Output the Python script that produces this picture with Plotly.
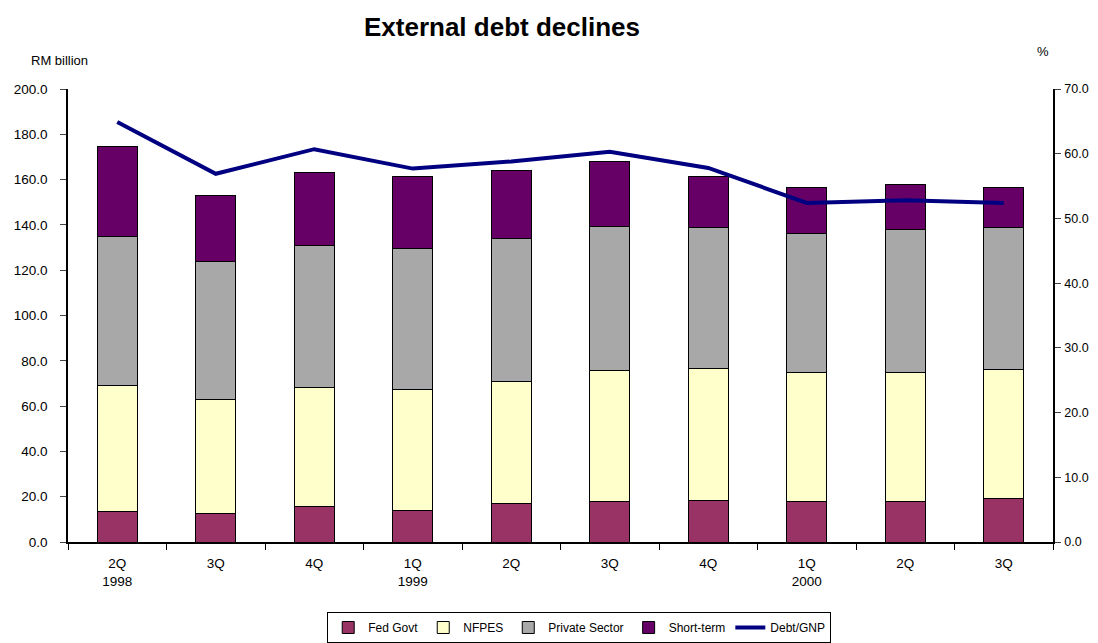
import plotly.graph_objects as go

categories = ["2Q<br>1998", "3Q", "4Q", "1Q<br>1999", "2Q", "3Q", "4Q", "1Q<br>2000", "2Q", "3Q"]
cat_keys = ["2Q98", "3Q98", "4Q98", "1Q99", "2Q99", "3Q99", "4Q99", "1Q00", "2Q00", "3Q00"]
fed_govt = [13.5, 12.4, 15.5, 13.7, 16.8, 17.7, 18.5, 18.1, 18.0, 19.0]
nfpes = [55.5, 50.7, 52.5, 53.8, 54.2, 58.2, 58.3, 56.9, 57.0, 57.0]
private_sector = [65.7, 60.9, 63.0, 62.2, 62.9, 63.6, 62.0, 61.3, 63.0, 62.8]
short_term = [40.1, 29.2, 32.2, 31.8, 30.1, 28.7, 22.7, 20.3, 20.0, 17.6]
debt_gnp = [64.9, 56.9, 60.7, 57.7, 58.8, 60.3, 57.8, 52.4, 52.8, 52.4]

font = "Liberation Sans, Arial, sans-serif"
fig = go.Figure()
bar_line = dict(color="black", width=1)
for name, vals, col in [("Fed Govt", fed_govt, "#993366"),
                        ("NFPES", nfpes, "#FFFFCC"),
                        ("Private Sector", private_sector, "#A8A8A8"),
                        ("Short-term", short_term, "#660066")]:
    fig.add_trace(go.Bar(x=cat_keys, y=vals, name=name, marker=dict(color=col, line=bar_line),
                         width=0.41))
fig.add_trace(go.Scatter(x=cat_keys, y=debt_gnp, name="Debt/GNP", mode="lines",
                         line=dict(color="#000080", width=4), yaxis="y2"))

fig.update_layout(
    barmode="stack",
    width=1090, height=635,
    paper_bgcolor="white", plot_bgcolor="white",
    font=dict(family=font, size=12, color="black"),
    margin=dict(l=60, r=45, t=81, b=101, autoexpand=False),
    title=dict(text="<b>External debt declines</b>", x=0.4532, xanchor="center", y=0.97,
               yanchor="middle", font=dict(size=26, family=font)),
    xaxis=dict(tickmode="array", tickvals=cat_keys, ticktext=categories,
               showline=True, linecolor="black", linewidth=1.5,
               ticks="outside", tickson="boundaries", ticklen=6, tickcolor="black",
               showgrid=False, tickfont=dict(size=13.5), automargin=False, ticklabelstandoff=8),
    yaxis=dict(range=[0, 200], dtick=20, tickformat=".1f", showline=True, linecolor="black",
               linewidth=1.5, ticks="outside", ticklen=6, showgrid=False, zeroline=False,
               tickfont=dict(size=13.5), automargin=False, ticklabelstandoff=10),
    yaxis2=dict(range=[0, 70], dtick=10, tickformat=".1f", overlaying="y", side="right",
                showline=True, linecolor="black", linewidth=1.5, ticks="outside", ticklen=6,
                showgrid=False, zeroline=False, tickfont=dict(size=12.5), automargin=False,
                ticklabelstandoff=1),
    legend=dict(orientation="h", x=0.519, xanchor="center", y=-0.1545, yanchor="top",
                bordercolor="black", borderwidth=1, font=dict(size=12), traceorder="normal",
                itemwidth=30, tracegroupgap=0),
    annotations=[
        dict(text="RM billion", x=-0.009, y=1.064, xref="paper", yref="paper", showarrow=False,
             xanchor="center", yanchor="middle", font=dict(size=13)),
        dict(text="%", x=0.99, y=1.082, xref="paper", yref="paper", showarrow=False,
             xanchor="center", yanchor="middle", font=dict(size=13)),
    ],
)
fig.write_html("out.html")
